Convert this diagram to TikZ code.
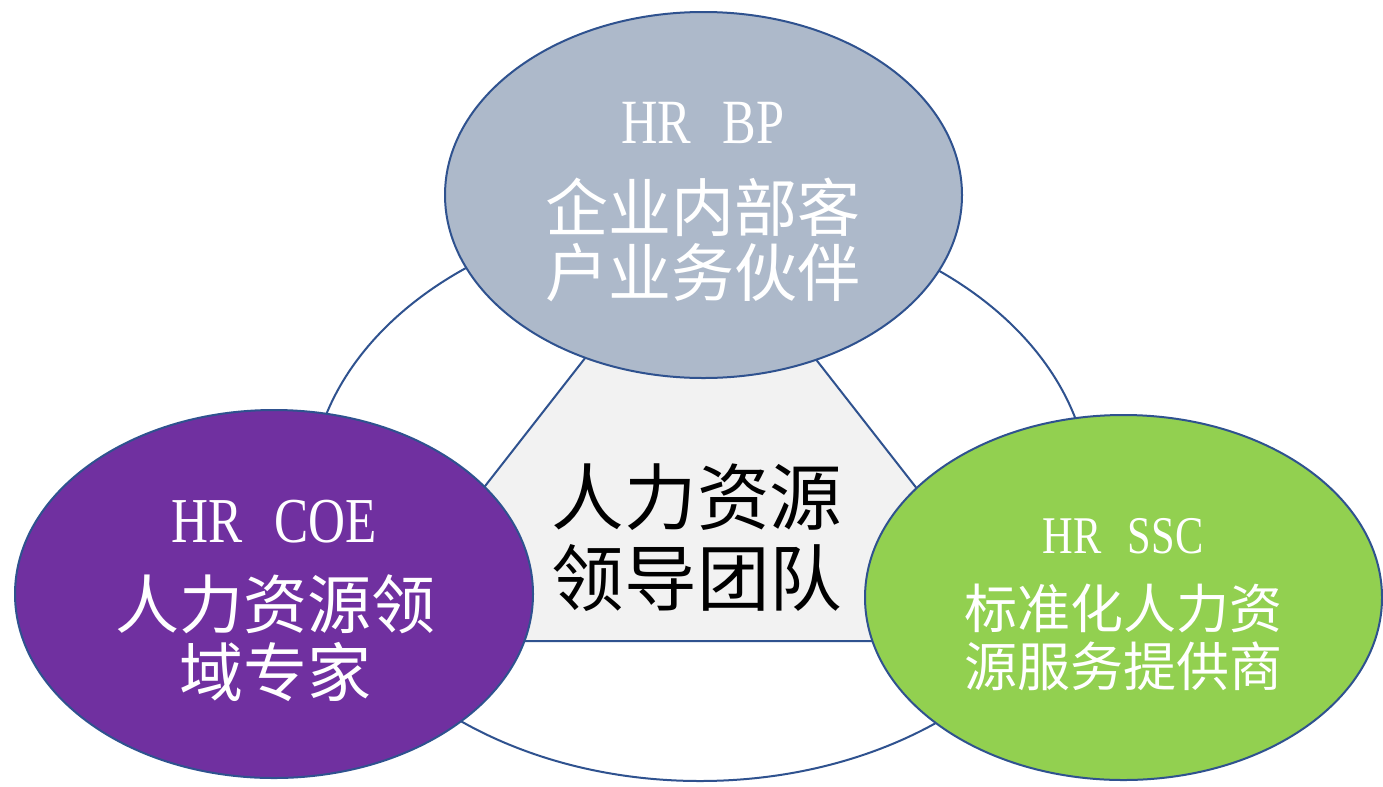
\documentclass[tikz,border=0pt]{standalone}
\usepackage{fontspec}
\newfontfamily\cjk{Noto Sans CJK SC}
\newfontfamily\latf[FakeStretch=0.8]{Liberation Serif}
\usetikzlibrary{shapes.geometric}
\definecolor{edge}{HTML}{2F528F}
\definecolor{bpfill}{HTML}{ADB9CA}
\definecolor{coefill}{HTML}{7030A0}
\definecolor{sscfill}{HTML}{92D050}
\definecolor{trifill}{HTML}{F2F2F2}
\begin{document}
\begin{tikzpicture}[x=0.75pt,y=-0.75pt,
  bubble/.style={ellipse, draw=edge, line width=1.5pt, inner sep=0pt},
  lbl/.style={anchor=base, inner sep=0pt, text=white},
  szA/.style={font=\latf\fontsize{47.25pt}{50pt}\selectfont},
  szB/.style={font=\cjk\fontsize{47.25pt}{50pt}\selectfont},
  szC/.style={font=\latf\fontsize{48pt}{50pt}\selectfont},
  szD/.style={font=\cjk\fontsize{48pt}{50pt}\selectfont},
  szE/.style={font=\latf\fontsize{39.75pt}{42pt}\selectfont},
  szF/.style={font=\cjk\fontsize{39.75pt}{42pt}\selectfont},
  szG/.style={font=\cjk\fontsize{54.4pt}{56pt}\selectfont},
  ]
\useasboundingbox[fill=white] (0,0) rectangle (1383,786);
% outer ring
\draw[edge, line width=1.5pt, fill=white] (700,496) ellipse [x radius=292.5pt, y radius=213.75pt];
% inner triangle
\draw[edge, line width=1.5pt, fill=trifill] (700,211) -- (364,641) -- (1036,641) -- cycle;
% three bubbles
\node[bubble, fill=bpfill, minimum width=387.75pt, minimum height=274.5pt] (bp) at (703.5,195) {};
\node[bubble, fill=coefill, minimum width=388.5pt, minimum height=276pt] (coe) at (274,594) {};
\node[bubble, fill=sscfill, minimum width=387.75pt, minimum height=273.75pt] (ssc) at (1123.5,597.5) {};
% texts
\node[lbl, szA] (bpA) at (703,143) {HR\hspace{0.5em}BP};
\node[lbl, szB] (bpB) at (703,231) {企业内部客};
\node[lbl, szB] (bpC) at (703,296) {户业务伙伴};
\node[lbl, szC] (coeA) at (274,542) {HR\hspace{0.5em}COE};
\node[lbl, szD] (coeB) at (275,628) {人力资源领};
\node[lbl, szD] (coeC) at (275,696) {域专家};
\node[lbl, szE] (sscA) at (1123,553) {HR\hspace{0.5em}SSC};
\node[lbl, szF] (sscB) at (1123,628) {标准化人力资};
\node[lbl, szF] (sscC) at (1123,686) {源服务提供商};
\node[lbl, szG, text=black] (ldA) at (697,524) {人力资源};
\node[lbl, szG, text=black] (ldB) at (697,605) {领导团队};
\end{tikzpicture}
\end{document}
